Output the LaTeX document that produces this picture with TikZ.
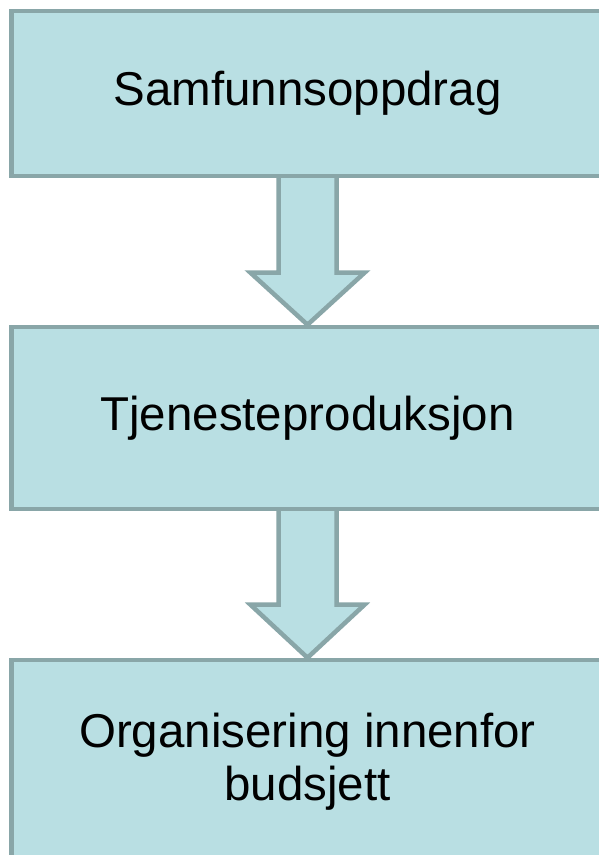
\documentclass[tikz,border=0pt]{standalone}
\usepackage{fontspec}
\setmainfont{Liberation Sans}
\usetikzlibrary{calc}
\definecolor{boxfill}{HTML}{B9DFE3}
\definecolor{boxline}{HTML}{89A6A8}
\begin{document}
\begin{tikzpicture}[x=1pt,y=1pt,
    stage/.style={draw=boxline,fill=boxfill,line width=4.5pt,minimum width=592pt,align=center,font=\fontsize{47.5}{53}\selectfont},
    flowarrow/.style={draw=boxline,fill=boxfill,line width=4.5pt,line join=miter}]
        \useasboundingbox (0,0) rectangle (598,855);
        \node[stage,minimum height=165pt] (samf) at (307.5,761.5) {Samfunnsoppdrag};
        \node[stage,minimum height=182pt] (tjen) at (307.5,437) {Tjenesteproduksjon};
        \node[stage,minimum height=203pt] (org) at (307.5,93.5) {Organisering innenfor\\budsjett};
        % block arrows
        \draw[flowarrow] ($(samf.south)+(-29,0)$) -- ($(tjen.north)+(-29,52)$) -- ($(tjen.north)+(-57,52)$) -- (tjen.north)
            -- ($(tjen.north)+(57,52)$) -- ($(tjen.north)+(29,52)$) -- ($(samf.south)+(29,0)$);
        \draw[flowarrow] ($(tjen.south)+(-29,0)$) -- ($(org.north)+(-29,53)$) -- ($(org.north)+(-57,53)$) -- (org.north)
            -- ($(org.north)+(57,53)$) -- ($(org.north)+(29,53)$) -- ($(tjen.south)+(29,0)$);
\end{tikzpicture}
\end{document}
